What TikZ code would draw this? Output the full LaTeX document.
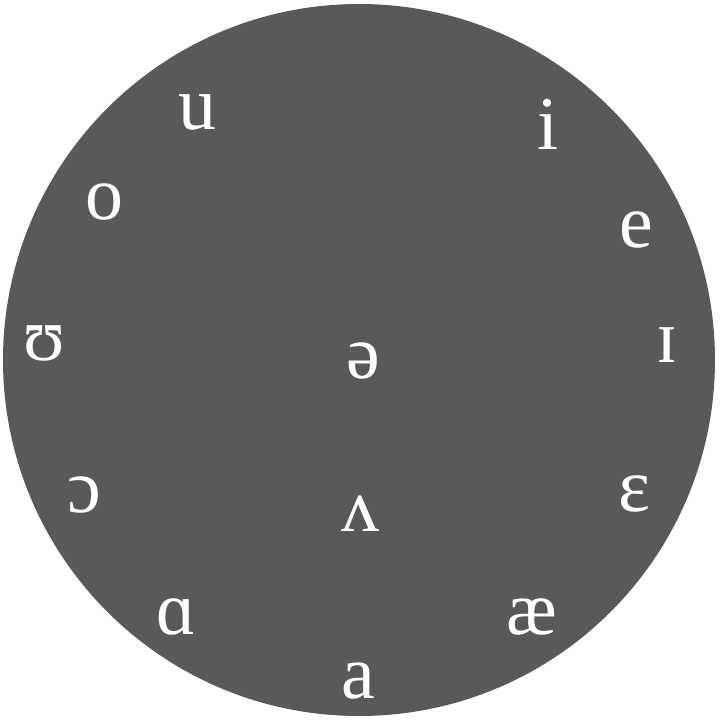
\documentclass[tikz,border=0pt]{standalone}
\usepackage{fontspec}
\setmainfont{Liberation Serif}
\definecolor{discgray}{RGB}{89, 89, 89}
\usetikzlibrary{positioning}

\begin{document}
\begin{tikzpicture}[
    vowel/.style={font=\fontsize{54}{60}\selectfont, text=white, inner sep=0pt}
  ]
  \useasboundingbox (-9, -9) rectangle (9, 9);

  % Disc
  \fill[discgray] (-0.025, 0) circle (8.9);

  % Vowels round the rim
  \node[vowel] (u) at (-4.075, 6.2) {u};
  \node[vowel] (i) at (4.69, 5.89) {i};
  \node[vowel] (o) at (-6.4, 3.95) {o};
  \node[vowel] (e) at (6.9, 3.25) {e};
  \node[vowel] (upsilon) at (-7.89, 0.425) {ʊ};
  \node[vowel] (smallcapi) at (7.675, 0.375) {ɪ};
  \node[vowel] (openo) at (-6.9, -3.375) {ɔ};
  \node[vowel] (epsilon) at (6.85, -3.36) {ɛ};
  \node[vowel] (scripta) at (-4.6, -6.425) {ɑ};
  \node[vowel] (ash) at (4.3, -6.425) {æ};
  \node[vowel] (a) at (-0.05, -8.025) {a};

  % Central vowels
  \node[vowel] (schwa) at (0.075, -0.025) {ə};
  \node[vowel] (wedge) at (0, -3.85) {ʌ};
\end{tikzpicture}
\end{document}
